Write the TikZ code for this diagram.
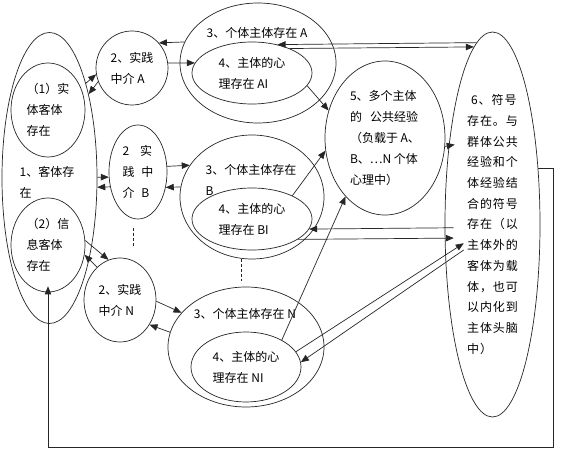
\documentclass[tikz,border=0pt]{standalone}
\usepackage{fontspec}
\newfontfamily\cjk{Noto Sans CJK SC}
\newfontfamily\cjkw{Noto Sans CJK SC}[LetterSpace=8]
\usetikzlibrary{arrows.meta,shapes.geometric}
\begin{document}
\begin{tikzpicture}[x=1pt,y=-1pt,
  ell/.style={draw=black!85, line width=0.7pt, ellipse, inner sep=0pt, align=left,
              font=\cjk\fontsize{12}{21}\selectfont},
  lbl/.style={inner sep=0pt, align=left, font=\cjk\fontsize{12}{21}\selectfont},
  arr/.style={draw=black!85, line width=0.7pt, -{Triangle[length=8pt,width=6.5pt]}},
  dsh/.style={draw=black!85, line width=0.7pt, dash pattern=on 3pt off 2pt}
]
\useasboundingbox (0,0) rectangle (566,470);
\fill[white] (0,0) rectangle (566,470);

% column 1
\node[ell, minimum width=95pt, minimum height=291pt] (O1) at (49.5,178) {};
\node[ell, minimum width=74pt, minimum height=94pt] (E1) at (48,110) {（1）实\\体客体\\存在};
\node[ell, minimum width=74pt, minimum height=94pt] (E2) at (48,245) {（2）信\\息客体\\存在};
\node[lbl] (t1) at (47,182.5) {1、客体存\\在};

% column 2
\node[ell, minimum width=72pt, minimum height=74pt] (P2A) at (132,68) {2、实践\\中介 A};
\node[ell, minimum width=58pt, minimum height=94pt] (P2B) at (138,172) {2\hspace{11pt}实\\践\hspace{7pt}中\\介\hspace{7pt}B};
\node[ell, minimum width=72pt, minimum height=84pt] (P2N) at (120,300) {2、实践\\中介 N};

% column 3
\node[ell, minimum width=156pt, minimum height=120pt] (S3A) at (258,63) {};
\node[lbl] (t3a) at (257,33) {3、个体主体存在 A};
\node[ell, minimum width=120pt, minimum height=62pt] (M4A) at (252,73) {4、主体的心\\理存在 AI};

\node[ell, minimum width=144pt, minimum height=124pt] (S3B) at (252,197) {};
\node[lbl] (t3b) at (251,179.5) {3、个体主体存在\\B};
\node[ell, minimum width=120pt, minimum height=62pt] (M4B) at (252,219) {4、主体的心\\理存在 BI};

\node[ell, minimum width=156pt, minimum height=120pt] (S3N) at (246,347) {};
\node[lbl] (t3n) at (245,314) {3、个体主体存在 N};
\node[ell, minimum width=110pt, minimum height=70pt] (M4N) at (246,367) {4、主体的心\\理存在 NI};

% column 4, 5
\node[ell, minimum width=120pt, minimum height=154pt] (C5) at (385,138)
  {5、多个主体\\的\hspace{8pt}公共经验\\（负载于 A、\\B、…N 个体\\心理中）};
\node[ell, minimum width=95pt, minimum height=385pt,
      font=\cjkw\fontsize{12}{20.7}\selectfont] (Y6) at (492.5,224.5)
  {\hspace{4pt}6、符号\\存在。与\\群体公共\\经验和个\\体经验结\\合的符号\\存在（以\\主体外的\\客体为载\\体，也可\\以内化到\\主体头脑\\中）};

% dashed continuation marks
\draw[dsh] (133,228) -- (133,246);
\draw[dsh] (241,259) -- (241,281);

% arrows column 1 <-> column 2
\draw[arr] (O1.69) -- (P2A.190);
\draw[arr] (P2A.202) -- (O1.65);
\draw[arr] (O1.1) -- (P2B.190);
\draw[arr] (P2B.208.6) -- (O1.349.2);
\draw[arr] (E2.7.7) -- (P2N.106);
\draw[arr] (P2N.125.7) -- (E2.345);

% arrows column 2 <-> column 3
\draw[arr] (S3A.164.8) -- (P2A.43.3);
\draw[arr] (P2A.8) -- (M4A.170);
\draw[arr] (P2B.11.8) -- (S3B.153.6);
\draw[arr] (S3B.172) -- (P2B.331.4);
\draw[arr] (P2N.358.5) -- (S3N.152.8);
\draw[arr] (S3N.169.8) -- (P2N.320.8);

% arrows to 5
\draw[arr] (M4A.347) -- (C5.154.4);
\draw[arr] (M4B.30) -- (C5.192.4);
\draw[arr] (M4N.37.7) -- (C5.236.5);

% arrows with 6
\draw[arr] (Y6.95.5) -- (M4A.48);
\draw[arr] (M4A.33) -- (Y6.96.4);
\draw[arr, shorten >=-6pt] (C5.352) -- (Y6.119);
\draw[arr, shorten <=-9pt] (Y6.184.8) -- (M4B.350);
\draw[arr, shorten >=-9pt] (M4B.336.4) -- (Y6.196.3);
\draw[arr, shorten >=-22pt] (M4N.17.2) -- (Y6.213);
\draw[arr, shorten <=-22pt] (Y6.219.5) -- (M4N.5);

% feedback loop
\coordinate (fbc) at (553,447);
\draw[arr, shorten >=-6pt] (Y6.51.7) -| (fbc) -| (E2.south);
\end{tikzpicture}
\end{document}
